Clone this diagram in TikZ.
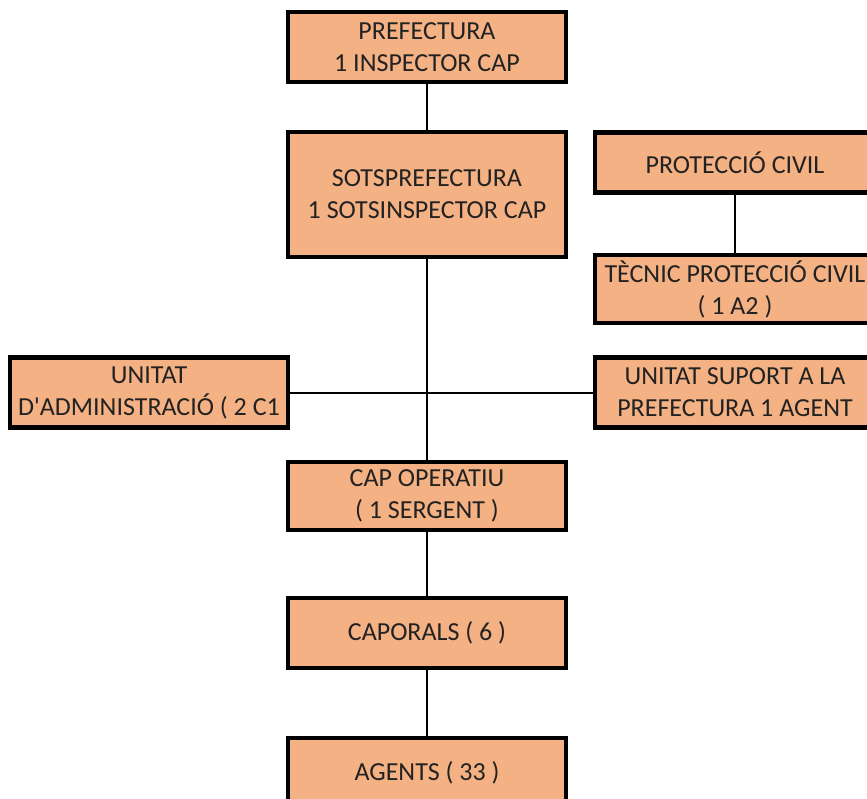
\documentclass[tikz,border=0pt]{standalone}
\usepackage{fontspec}
\setmainfont{Carlito}[Ligatures=TeXOff]
\definecolor{boxfill}{HTML}{F4B183}
\definecolor{txt}{HTML}{222222}
\begin{document}
\begin{tikzpicture}[x=1pt,y=-1pt,
  box/.style={draw=black, line width=4.5pt, fill=boxfill, text=txt, align=center,
    inner sep=0pt, font=\fontsize{26}{32}\selectfont},
  conn/.style={draw=black, line width=2pt}]
\useasboundingbox (0,0) rectangle (867,798);
\fill[white] (0,0) rectangle (867,798);
\node[box, minimum width=278pt, minimum height=70pt] (pref) at (427,47) {PREFECTURA\\1 INSPECTOR CAP};
\node[box, minimum width=278pt, minimum height=125pt] (sots) at (427,194.5) {SOTSPREFECTURA\\1 SOTSINSPECTOR CAP};
\node[box, minimum width=280pt, minimum height=60pt] (prot) at (735,162.5) {PROTECCIÓ CIVIL};
\node[box, minimum width=280pt, minimum height=68pt] (tec) at (735,289) {TÈCNIC PROTECCIÓ CIVIL\\( 1 A2 )};
\node[box, minimum width=278pt, minimum height=70pt] (admin) at (149,392.5) {UNITAT\\D'ADMINISTRACIÓ ( 2 C1};
\node[box, minimum width=280pt, minimum height=70pt] (suport) at (735,392.5) {UNITAT SUPORT A LA\\PREFECTURA 1 AGENT};
\node[box, minimum width=278pt, minimum height=68pt] (cap) at (427,496) {CAP OPERATIU\\( 1 SERGENT )};
\node[box, minimum width=278pt, minimum height=70pt] (capo) at (427,633) {CAPORALS ( 6 )};
\node[box, minimum width=278pt, minimum height=70pt] (agents) at (427,773) {AGENTS ( 33 )};
\draw[conn] (pref.south) -- (sots.north);
\draw[conn] (sots.south) -- (cap.north);
\draw[conn] (prot.south) -- (tec.north);
\draw[conn] (admin.east) -- (suport.west);
\draw[conn] (cap.south) -- (capo.north);
\draw[conn] (capo.south) -- (agents.north);
\end{tikzpicture}
\end{document}
